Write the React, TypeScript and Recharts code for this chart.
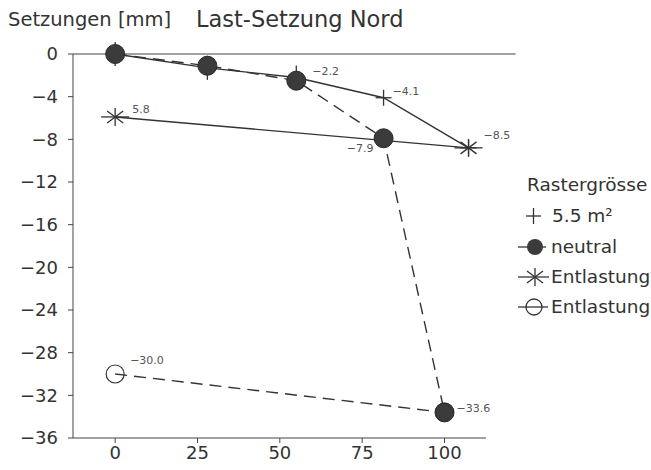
import React from 'react';
import { LineChart, Line, XAxis, YAxis, ReferenceLine, LabelList } from 'recharts';

// x positions (as placed in the figure) and settlements [mm]
const xPlus = [0, 28, 55, 81.5, 107.3];
const yPlus = [0, -1.3, -2.2, -4.1, -8.8];
const xNeutral = [0, 28, 55, 81.5, 100];
const yNeutral = [0, -1.1, -2.5, -7.9, -33.6];
const xStar = [0, 107.3];
const yStar = [-5.9, -8.8];
const xOpen = [0, 100];
const yOpen = [-30.0, -33.6];

const labelsPlus = ['', '', '−2.2', '−4.1', ''];
const labelsNeutral = ['', '', '', '−7.9', '−33.6'];
const labelsStar = ['5.8', '−8.5'];
const labelsOpen = ['−30.0', ''];

const xTicks = [0, 25, 50, 75, 100];
const yTicks = [0, -4, -8, -12, -16, -20, -24, -28, -32, -36];

const legendTitle = 'Rastergrösse';
const legendItems = ['5.5 m²', 'neutral', 'Entlastung', 'Entlastung'];

const FONT = '"DejaVu Sans", Verdana, sans-serif';
const INK = '#333';
const LABEL = '#555';
const DASH = '12 7';

const toRows = (xs: number[], ys: number[], labels: string[]) =>
  xs.map((x, i) => ({ x, y: ys[i], label: labels[i] }));

const plusData = toRows(xPlus, yPlus, labelsPlus);
const neutralData = toRows(xNeutral, yNeutral, labelsNeutral);
const starData = toRows(xStar, yStar, labelsStar);
const openData = toRows(xOpen, yOpen, labelsOpen);

// label offsets relative to the point (layout only)
const offPlus: Record<number, [number, number, string]> = {
  2: [16, -5, 'start'],
  3: [9, -6, 'start'],
};
const offNeutral: Record<number, [number, number, string]> = {
  3: [-10, 11, 'end'],
  4: [12, -3, 'start'],
};
const offStar: Record<number, [number, number, string]> = {
  0: [17, -7, 'start'],
  1: [15, -12, 'start'],
};
const offOpen: Record<number, [number, number, string]> = {
  0: [15, -13, 'start'],
};

const minus = (v: number) => String(v).replace('-', '−');

const makeLabel = (rows: { label: string }[], offs: Record<number, [number, number, string]>) =>
  (props: any) => {
    const { x, y, index } = props;
    const row = rows[index];
    const o = offs[index];
    if (!row || !row.label || !o) return null;
    return (
      <text
        x={x + o[0]}
        y={y + o[1]}
        textAnchor={o[2] as any}
        dominantBaseline="middle"
        fontSize={11}
        fontFamily={FONT}
        fill={LABEL}
      >
        {row.label}
      </text>
    );
  };

const PlusDot = (props: any) => {
  const { cx, cy, index } = props;
  if (cx == null || cy == null) return null;
  const v = index < 3 ? 12 : 8;
  const h = 8;
  return (
    <g key={`p-${index}`} stroke={INK} strokeWidth={1.3}>
      <line x1={cx} y1={cy - v} x2={cx} y2={cy + v} />
      <line x1={cx - h} y1={cy} x2={cx + h} y2={cy} />
    </g>
  );
};

const FilledDot = (props: any) => {
  const { cx, cy, index } = props;
  if (cx == null || cy == null) return null;
  return <circle key={`n-${index}`} cx={cx} cy={cy} r={9.5} fill="#3b3b3b" stroke="#2a2a2a" strokeWidth={1} />;
};

const StarDot = (props: any) => {
  const { cx, cy, index } = props;
  if (cx == null || cy == null) return null;
  return (
    <g key={`s-${index}`} stroke={INK} strokeWidth={1.3}>
      <line x1={cx - 14} y1={cy} x2={cx + 14} y2={cy} />
      <line x1={cx} y1={cy - 9} x2={cx} y2={cy + 9} />
      <line x1={cx - 8} y1={cy - 6} x2={cx + 8} y2={cy + 6} />
      <line x1={cx - 8} y1={cy + 6} x2={cx + 8} y2={cy - 6} />
    </g>
  );
};

const OpenDot = (props: any) => {
  const { cx, cy, index } = props;
  if (cx == null || cy == null) return null;
  return <circle key={`o-${index}`} cx={cx} cy={cy} r={9} fill="none" stroke={INK} strokeWidth={1.2} />;
};

const Overlay = () => (
  <svg width={651} height={470} style={{ position: 'absolute', left: 0, top: 0, pointerEvents: 'none' }}>
    <text x={8} y={26} fontSize={19.5} fontFamily={FONT} fill={INK}>Setzungen [mm]</text>
    <text x={196} y={27} fontSize={22.5} fontFamily={FONT} fill={INK}>Last-Setzung Nord</text>
    <g fontFamily={FONT} fontSize={18.5} fill={INK}>
      <text x={527} y={191}>{legendTitle}</text>
      {/* + */}
      <g stroke={INK} strokeWidth={1.3}>
        <line x1={526} y1={216} x2={541} y2={216} />
        <line x1={533.5} y1={208} x2={533.5} y2={224} />
      </g>
      <text x={552} y={222}>{legendItems[0]}</text>
      {/* neutral */}
      <line x1={518} y1={247} x2={546} y2={247} stroke={INK} strokeWidth={1.3} />
      <circle cx={535} cy={247} r={8} fill="#3b3b3b" />
      <text x={551} y={253}>{legendItems[1]}</text>
      {/* star */}
      <g stroke={INK} strokeWidth={1.3}>
        <line x1={518} y1={277} x2={549} y2={277} />
        <line x1={535} y1={268} x2={535} y2={286} />
        <line x1={527} y1={271} x2={543} y2={283} />
        <line x1={527} y1={283} x2={543} y2={271} />
      </g>
      <text x={551} y={283}>{legendItems[2]}</text>
      {/* open circle */}
      <line x1={518} y1={307} x2={548} y2={307} stroke={INK} strokeWidth={1.3} />
      <circle cx={534} cy={307} r={8} fill="#fff" stroke={INK} strokeWidth={1.3} />
      <line x1={526} y1={307} x2={542} y2={307} stroke={INK} strokeWidth={1.3} />
      <text x={551} y={313}>{legendItems[3]}</text>
    </g>
  </svg>
);

export default function App() {
  return (
    <div style={{ position: 'absolute', left: 0, top: 0, width: 651, height: 470, background: '#fff' }}>
      <LineChart width={651} height={470} margin={{ top: 54, right: 165, bottom: 2, left: 13 }}>
        <XAxis
          type="number"
          dataKey="x"
          domain={[-12.8, 112.6]}
          allowDataOverflow
          ticks={xTicks}
          height={30}
          tickSize={5}
          tickMargin={3}
          stroke="#444"
          tick={{ fill: INK, fontSize: 18, fontFamily: FONT }}
          allowDuplicatedCategory={false}
        />
        <YAxis
          type="number"
          domain={[-36, 0]}
          ticks={yTicks}
          width={60}
          tickSize={5}
          tickMargin={10}
          stroke="#444"
          tickFormatter={minus}
          tick={{ fill: INK, fontSize: 18, fontFamily: FONT }}
        />
        <ReferenceLine
          segment={[{ x: -12.8, y: 0 }, { x: 121.6, y: 0 }]}
          ifOverflow="visible"
          stroke="#444"
          strokeWidth={1.2}
        />
        <Line
          data={plusData}
          dataKey="y"
          stroke={INK}
          strokeWidth={1.4}
          dot={PlusDot}
          activeDot={false}
          isAnimationActive={false}
          type="linear"
        >
          <LabelList dataKey="label" content={makeLabel(plusData, offPlus)} />
        </Line>
        <Line
          data={starData}
          dataKey="y"
          stroke={INK}
          strokeWidth={1.4}
          dot={StarDot}
          activeDot={false}
          isAnimationActive={false}
          type="linear"
        >
          <LabelList dataKey="label" content={makeLabel(starData, offStar)} />
        </Line>
        <Line
          data={openData}
          dataKey="y"
          stroke={INK}
          strokeWidth={1.4}
          strokeDasharray={DASH}
          dot={OpenDot}
          activeDot={false}
          isAnimationActive={false}
          type="linear"
        >
          <LabelList dataKey="label" content={makeLabel(openData, offOpen)} />
        </Line>
        <Line
          data={neutralData}
          dataKey="y"
          stroke={INK}
          strokeWidth={1.4}
          strokeDasharray={DASH}
          dot={FilledDot}
          activeDot={false}
          isAnimationActive={false}
          type="linear"
        >
          <LabelList dataKey="label" content={makeLabel(neutralData, offNeutral)} />
        </Line>
      </LineChart>
      <Overlay />
    </div>
  );
}
